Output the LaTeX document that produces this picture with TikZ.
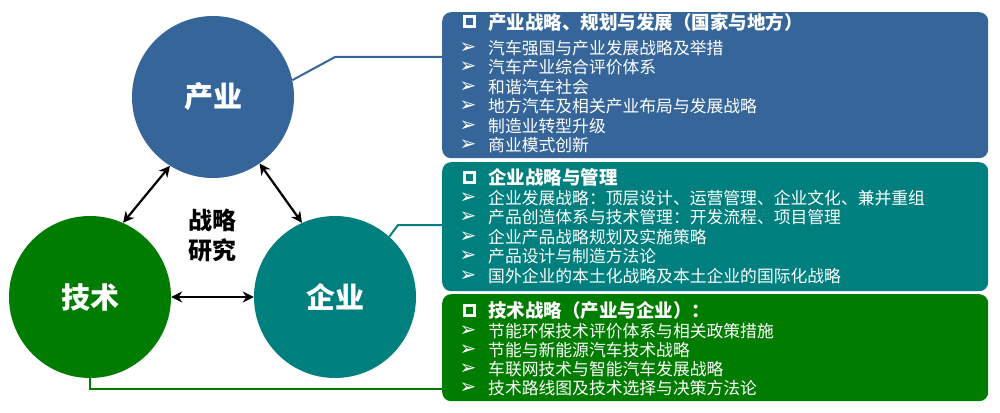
\documentclass[tikz,border=0pt]{standalone}
\usepackage{fontspec}
\setmainfont{Noto Sans CJK SC}
\newfontfamily\dvfont{DejaVu Sans}
\usetikzlibrary{arrows.meta}
\definecolor{cblue}{RGB}{54,102,153}
\definecolor{cteal}{RGB}{0,127,127}
\definecolor{cgreen}{RGB}{0,124,0}
\tikzset{
  circ/.style={circle, minimum size=162pt, inner sep=0pt, text=white, font=\bfseries\fontsize{29}{30}\selectfont},
  panel/.style={rounded corners=9pt, minimum width=546pt, inner sep=0pt, anchor=north west},
  head/.style={anchor=west, inner sep=0pt, text=white, font=\bfseries\fontsize{18.5}{20}\selectfont, text height=16.3pt, text depth=2.2pt},
  item/.style={anchor=west, inner sep=0pt, text=white, font=\fontsize{16.8}{18}\selectfont, text height=14.8pt, text depth=2pt},
  sq/.style={draw=white, line width=3pt, minimum size=10pt, inner sep=0pt},
  arr/.style={inner sep=0pt, text=white, font=\dvfont\fontsize{20}{20}\selectfont},
  dbl/.style={line width=2.2pt, {Stealth[length=11pt,width=11pt]}-{Stealth[length=11pt,width=11pt]}},
  link/.style={line width=2pt}
}
\begin{document}
\begin{tikzpicture}[x=1pt,y=-1pt]
\useasboundingbox (0,0) rectangle (1000,412);
% circles
\node[circ, fill=cblue] (cy) at (213,97) {产业};
\node[circ, fill=cgreen] (js) at (90,297) {技术};
\node[circ, fill=cteal] (qy) at (335,297) {企业};
\node[font=\bfseries\fontsize{24}{30}\selectfont, align=center, inner sep=0pt] (zl) at (212,235) {战略\\研究};
% arrows
\draw[dbl] (cy.238) -- (js.66);
\draw[dbl] (cy.305) -- (qy.114);
\draw[dbl] (js.east) -- (qy.west);
% panels
\node[panel, fill=cblue, minimum height=146pt] (pa) at (442,12) {};
\node[panel, fill=cteal, minimum height=129pt] (pb) at (442,162) {};
\node[panel, fill=cgreen, minimum height=107pt] (pc) at (442,294) {};
% connectors
\coordinate (ka) at (335,57);
\coordinate (kb) at (398,225);
\coordinate (kc) at (90,389);
\draw[link, cblue] (cy.12) -- (ka) -- (ka -| pa.west);
\draw[link, cteal] (qy.48) -- (kb) -- (kb -| pb.west);
\draw[link, cgreen] (js.south) -- (kc) -- (kc -| pc.west);
% panel A
\node[sq] (sa) at (469,22) {};
\node[head] (ha) at (488,22) {产业战略、规划与发展（国家与地方）};
\node[arr] (ba1) at (468,48) {➢};
\node[item] (a1) at (488,48) {汽车强国与产业发展战略及举措};
\node[arr] (ba2) at (468,67.5) {➢};
\node[item] (a2) at (488,67.5) {汽车产业综合评价体系};
\node[arr] (ba3) at (468,87) {➢};
\node[item] (a3) at (488,87) {和谐汽车社会};
\node[arr] (ba4) at (468,106.5) {➢};
\node[item] (a4) at (488,106.5) {地方汽车及相关产业布局与发展战略};
\node[arr] (ba5) at (468,126) {➢};
\node[item] (a5) at (488,126) {制造业转型升级};
\node[arr] (ba6) at (468,145.5) {➢};
\node[item] (a6) at (488,145.5) {商业模式创新};
% panel B
\node[sq] (sb) at (469,177) {};
\node[head] (hb) at (488,177) {企业战略与管理};
\node[arr] (bb1) at (468,198) {➢};
\node[item] (b1) at (488,198) {企业发展战略：顶层设计、运营管理、企业文化、兼并重组};
\node[arr] (bb2) at (468,217.5) {➢};
\node[item] (b2) at (488,217.5) {产品创造体系与技术管理：开发流程、项目管理};
\node[arr] (bb3) at (468,237) {➢};
\node[item] (b3) at (488,237) {企业产品战略规划及实施策略};
\node[arr] (bb4) at (468,256.5) {➢};
\node[item] (b4) at (488,256.5) {产品设计与制造方法论};
\node[arr] (bb5) at (468,276) {➢};
\node[item] (b5) at (488,276) {国外企业的本土化战略及本土企业的国际化战略};
% panel C
\node[sq] (sc) at (469,310) {};
\node[head] (hc) at (488,310) {技术战略（产业与企业）：};
\node[arr] (bc1) at (468,331) {➢};
\node[item] (c1) at (488,331) {节能环保技术评价体系与相关政策措施};
\node[arr] (bc2) at (468,350) {➢};
\node[item] (c2) at (488,350) {节能与新能源汽车技术战略};
\node[arr] (bc3) at (468,369) {➢};
\node[item] (c3) at (488,369) {车联网技术与智能汽车发展战略};
\node[arr] (bc4) at (468,388) {➢};
\node[item] (c4) at (488,388) {技术路线图及技术选择与决策方法论};
\end{tikzpicture}
\end{document}
